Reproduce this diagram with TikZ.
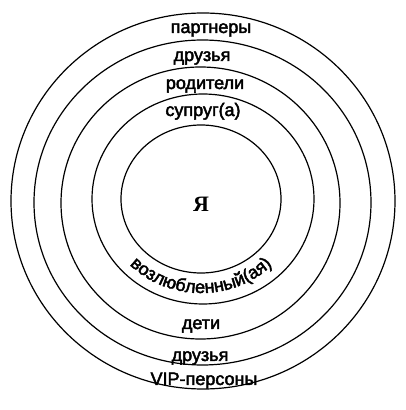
\documentclass[tikz,border=0pt]{standalone}
\usepackage{fontspec}
\setmainfont{Liberation Sans}
\newfontfamily\bandfont{Liberation Sans}[FakeBold=2.5]
\newfontfamily\yafont{Liberation Serif}
\usepackage{tikz}
\usetikzlibrary{decorations.text}

\begin{document}
\begin{tikzpicture}[x=1pt, y=1pt, ring/.style={line width=1.2pt, draw=black}, band/.style={font=\bandfont\fontsize{18}{18}\selectfont, anchor=base, inner sep=0pt}]

\useasboundingbox (0,0) rectangle (406,410);

\draw[ring] (203,209) ellipse [x radius=192, y radius=188];
\draw[ring] (202.5,207.5) ellipse [x radius=168.5, y radius=162.5];
\draw[ring] (200.5,207) ellipse [x radius=139.5, y radius=136];
\draw[ring] (203,211) ellipse [x radius=111, y radius=105];
\draw[ring] (201,211) ellipse [x radius=80, y radius=74];

\node (ya) at (201,206) [font=\yafont\fontsize{22}{22}\selectfont\bfseries] {Я};

\node (partners) at (211,377) [band] {партнеры};
\node (friendsTop) at (202,349) [band] {друзья};
\node (parents) at (205,321) [band] {родители};
\node (spouse) at (203,294) [band] {супруг(а)};

\node (children) at (201,81) [band] {дети};
\node (friendsBottom) at (200,49) [band] {друзья};
\node (vip) at (204,25) [band] {VIP-персоны};

\path[decorate, decoration={text along path, text align=center, text={|\bandfont\fontsize{18}{18}\selectfont|возлюбленный(ая)}}]
  (201,211) ++(200:100 and 94) arc [start angle=200, end angle=340, x radius=100, y radius=94];

\end{tikzpicture}
\end{document}
